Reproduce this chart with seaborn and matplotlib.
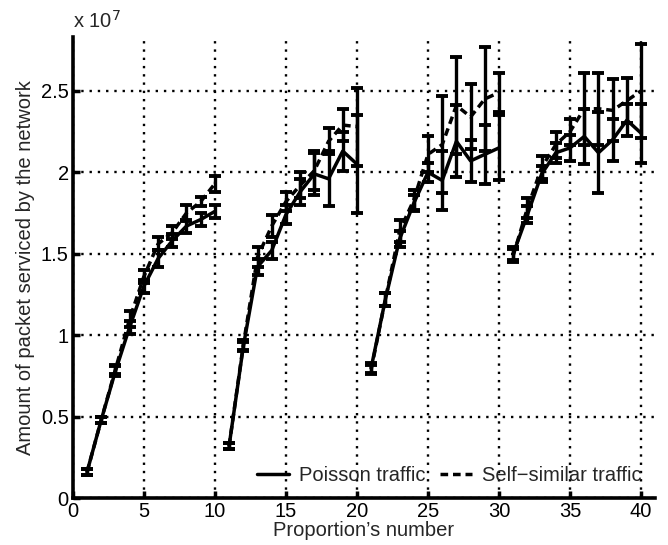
import numpy as np
import pandas as pd
import matplotlib
matplotlib.use('Agg')
import matplotlib.pyplot as plt
import seaborn as sns
from matplotlib.ticker import FormatStrFormatter

# values in units of 1e7 packets, 4 groups of 10 proportions
proportion = list(range(1, 41))
group = [i // 10 for i in range(40)]

poisson = [0.16, 0.48, 0.78, 1.05, 1.30, 1.47, 1.58, 1.67, 1.71, 1.76,
           0.32, 0.93, 1.42, 1.52, 1.74, 1.88, 1.99, 1.96, 2.13, 2.05,
           0.80, 1.22, 1.59, 1.81, 2.00, 1.95, 2.19, 2.07, 2.11, 2.15,
           1.50, 1.74, 1.99, 2.12, 2.15, 2.22, 2.12, 2.20, 2.32, 2.24]
poisson_err = [0.02, 0.02, 0.03, 0.04, 0.04, 0.05, 0.04, 0.04, 0.04, 0.04,
               0.02, 0.03, 0.05, 0.05, 0.06, 0.08, 0.13, 0.17, 0.12, 0.30,
               0.03, 0.04, 0.05, 0.05, 0.06, 0.18, 0.22, 0.13, 0.18, 0.20,
               0.04, 0.05, 0.05, 0.06, 0.08, 0.17, 0.25, 0.13, 0.10, 0.18]

selfsim = [0.16, 0.48, 0.79, 1.10, 1.36, 1.56, 1.63, 1.75, 1.82, 1.93,
           0.32, 0.94, 1.48, 1.67, 1.82, 1.92, 2.01, 2.19, 2.29, 2.28,
           0.79, 1.22, 1.64, 1.83, 2.11, 2.17, 2.41, 2.34, 2.45, 2.49,
           1.49, 1.78, 2.03, 2.17, 2.25, 2.39, 2.39, 2.38, 2.44, 2.50]
selfsim_err = [0.02, 0.02, 0.03, 0.05, 0.04, 0.04, 0.04, 0.05, 0.03, 0.05,
               0.02, 0.03, 0.06, 0.07, 0.06, 0.08, 0.12, 0.08, 0.10, 0.24,
               0.03, 0.04, 0.07, 0.06, 0.11, 0.30, 0.30, 0.20, 0.32, 0.12,
               0.04, 0.06, 0.07, 0.08, 0.08, 0.22, 0.22, 0.19, 0.14, 0.29]

labels = ['Poisson traffic', 'Self\u2212similar traffic']

sns.set_style('white')
plt.rcParams['font.family'] = ['Liberation Sans', 'DejaVu Sans']

df = pd.concat([
    pd.DataFrame({'x': proportion, 'y': poisson, 'err': poisson_err,
                  'series': labels[0], 'group': group}),
    pd.DataFrame({'x': proportion, 'y': selfsim, 'err': selfsim_err,
                  'series': labels[1], 'group': group}),
])

fig = plt.figure(figsize=(6.68, 5.45), dpi=100)
ax = fig.add_axes([0.109, 0.086, 0.872, 0.846])

for s in labels:
    d = df[df['series'] == s]
    ax.errorbar(d['x'], d['y'], yerr=d['err'], fmt='none', ecolor='black',
                elinewidth=2.4, capsize=4.5, capthick=2.8, zorder=3)

sns.lineplot(data=df, x='x', y='y', style='series', units='group',
             estimator=None, color='black', linewidth=2.5,
             dashes={labels[0]: '', labels[1]: (2.2, 1.4)}, ax=ax, zorder=4)

ax.set_xlim(0, 41)
ax.set_ylim(0, 2.83)
ax.set_xticks(range(0, 41, 5))
ax.set_yticks([0, 0.5, 1, 1.5, 2, 2.5])
ax.yaxis.set_major_formatter(FormatStrFormatter('%g'))
ax.grid(True, color='black', linestyle=(0, (1, 2.5)), linewidth=1.7)
ax.set_axisbelow(True)

for side in ['top', 'right']:
    ax.spines[side].set_visible(False)
for side in ['left', 'bottom']:
    ax.spines[side].set_linewidth(2.6)
    ax.spines[side].set_color('black')

ax.tick_params(direction='in', length=5, width=2.5, labelsize=14.5,
               colors='black', left=True, bottom=True, pad=3)
ax.set_xlabel("Proportion\u2019s number", fontsize=14.5, labelpad=0)
ax.set_ylabel('Amount of packet serviced by the network', fontsize=14.5,
              labelpad=4)
ax.text(0, 1.012, r'x 10$^{7}$', transform=ax.transAxes, fontsize=14.5,
        ha='left', va='bottom')

handles, lbls = ax.get_legend_handles_labels()
ax.legend(handles, lbls, loc='center right', bbox_to_anchor=(0.99, 0.05),
          ncol=2, frameon=False, fontsize=14.5, handlelength=1.6,
          handletextpad=0.5, columnspacing=0.7, borderaxespad=0)

fig.savefig('out.png', dpi=100)
